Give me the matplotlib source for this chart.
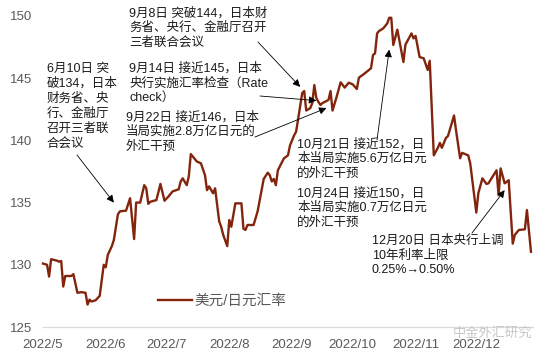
import matplotlib
matplotlib.use("Agg")
import matplotlib.pyplot as plt
import matplotlib.dates as mdates
from matplotlib.ticker import FuncFormatter
import pandas as pd

# 美元/日元汇率
dates = [
    "2022-05-01", "2022-05-03", "2022-05-04", "2022-05-05", "2022-05-08", "2022-05-09",
    "2022-05-10", "2022-05-11", "2022-05-12", "2022-05-15", "2022-05-16", "2022-05-18",
    "2022-05-20", "2022-05-22", "2022-05-23", "2022-05-24", "2022-05-25", "2022-05-27",
    "2022-05-29", "2022-05-31",
    "2022-06-01", "2022-06-02", "2022-06-04", "2022-06-05", "2022-06-07", "2022-06-08",
    "2022-06-11", "2022-06-13", "2022-06-15", "2022-06-16", "2022-06-18", "2022-06-20",
    "2022-06-21", "2022-06-22", "2022-06-23", "2022-06-26", "2022-06-28", "2022-06-30",
    "2022-07-02", "2022-07-04", "2022-07-07", "2022-07-08", "2022-07-09", "2022-07-11",
    "2022-07-12", "2022-07-13", "2022-07-15", "2022-07-16", "2022-07-18", "2022-07-20",
    "2022-07-21", "2022-07-22", "2022-07-24", "2022-07-25", "2022-07-27", "2022-07-28",
    "2022-07-29", "2022-07-31",
    "2022-08-01", "2022-08-02", "2022-08-04", "2022-08-07", "2022-08-08", "2022-08-09",
    "2022-08-10", "2022-08-13", "2022-08-15", "2022-08-18", "2022-08-20", "2022-08-21",
    "2022-08-22", "2022-08-23", "2022-08-24", "2022-08-25", "2022-08-28", "2022-08-30",
    "2022-08-31",
    "2022-09-02", "2022-09-03", "2022-09-04", "2022-09-06", "2022-09-07", "2022-09-08",
    "2022-09-10", "2022-09-11", "2022-09-12", "2022-09-13", "2022-09-14", "2022-09-15",
    "2022-09-16", "2022-09-19", "2022-09-20", "2022-09-21", "2022-09-23", "2022-09-25",
    "2022-09-27", "2022-09-29",
    "2022-10-01", "2022-10-03", "2022-10-04", "2022-10-07", "2022-10-10", "2022-10-11",
    "2022-10-12", "2022-10-13", "2022-10-14", "2022-10-16", "2022-10-18", "2022-10-19",
    "2022-10-20", "2022-10-21", "2022-10-23", "2022-10-26", "2022-10-27", "2022-10-30",
    "2022-10-31",
    "2022-11-01", "2022-11-03", "2022-11-05", "2022-11-07", "2022-11-08", "2022-11-10",
    "2022-11-12", "2022-11-13", "2022-11-14", "2022-11-16", "2022-11-17", "2022-11-20",
    "2022-11-21", "2022-11-23", "2022-11-24", "2022-11-27", "2022-11-28",
    "2022-12-01", "2022-12-02", "2022-12-04", "2022-12-06", "2022-12-07", "2022-12-11",
    "2022-12-12", "2022-12-13", "2022-12-15", "2022-12-17", "2022-12-19", "2022-12-20",
    "2022-12-22", "2022-12-25", "2022-12-26", "2022-12-28",
]
usdjpy = [
    130.1, 130.0, 129.05, 130.45, 130.33, 130.25,
    130.3, 128.25, 129.1, 129.1, 129.25, 127.75,
    127.8, 127.75, 126.8, 127.2, 127.05, 127.15,
    127.5, 130.0,
    129.8, 130.8, 131.5, 132.0, 134.06, 134.3,
    134.35, 135.35, 132.07, 135.0, 135.0, 136.4,
    136.15, 134.9, 135.07, 135.2, 136.5, 135.15,
    135.5, 135.9, 136.07, 136.7, 136.95, 136.4,
    137.1, 138.9, 138.5, 138.3, 138.16, 137.2,
    136.0, 136.3, 135.75, 136.15, 133.5, 133.06,
    132.4, 131.5,
    133.6, 133.06, 134.94, 134.94, 132.9, 132.8,
    133.2, 133.2, 134.3, 136.9, 137.4, 137.2,
    136.7, 136.9, 136.4, 137.6, 138.56, 138.8,
    139.6,
    140.4, 140.7, 141.7, 143.8, 143.97, 142.4,
    142.6, 143.0, 144.45, 143.4, 143.1, 142.85,
    143.0, 143.25, 143.97, 142.4, 143.5, 144.67,
    144.24, 144.64,
    144.5, 144.13, 145.04, 145.4, 145.8, 146.87,
    147.0, 148.6, 148.8, 149.0, 149.4, 149.86,
    149.86, 147.67, 148.9, 146.3, 147.7, 148.6,
    148.2,
    148.4, 146.7, 146.6, 145.66, 146.4, 138.8,
    139.4, 139.8, 139.4, 140.2, 140.35, 142.0,
    140.8, 138.56, 139.0, 138.8, 138.16,
    134.2, 135.75, 136.95, 136.5, 136.55, 137.6,
    135.6, 137.75, 136.55, 136.8, 131.7, 132.4,
    132.8, 132.85, 134.4, 131.05,
]
series_name = "美元/日元汇率"

# annotation texts and the (date, value) they point at
notes = [
    ("6月10日 突\n破134，日本\n财务省、央\n行、金融厅\n召开三者联\n合会议", "2022-06-05", 135.0),
    ("9月8日 突破144，日本财\n务省、央行、金融厅召开\n三者联合会议", "2022-09-05", 144.3),
    ("9月14日 接近145，日本\n央行实施汇率检查（Rate\ncheck）", "2022-09-13", 143.2),
    ("9月22日 接近146，日本\n当局实施2.8万亿日元的\n外汇干预", "2022-09-18", 142.6),
    ("10月21日 接近152，日\n本当局实施5.6万亿日元\n的外汇干预", "2022-10-19", 147.3),
    ("10月24日 接近150，日\n本当局实施0.7万亿日元\n的外汇干预", None, None),
    ("12月20日 日本央行上调\n10年利率上限\n0.25%→0.50%", "2022-12-15", 136.0),
]
# text top-left and arrow tail, in figure pixels from top-left
text_pos = [(47, 63), (129, 7), (129, 62), (126, 111), (297, 138), (297, 187), (372, 235)]
tail_pos = [(77, 155), (258, 42), (260, 96), (255, 137), (377, 140), None, (472, 233)]

W, H = 550, 359
plt.rcParams["font.family"] = ["Liberation Sans", "Noto Sans CJK SC", "DejaVu Sans"]

fig = plt.figure(figsize=(W / 100, H / 100), dpi=100)
ax = fig.add_axes([43 / W, 1 - 327 / H, (533 - 43) / W, (327 - 16) / H])

x = pd.to_datetime(dates)
ax.plot(x, usdjpy, color="#82250C", lw=1.7, label=series_name, clip_on=False)

ax.set_ylim(125, 150)
ax.set_yticks([125, 130, 135, 140, 145, 150])
ax.set_xlim(pd.Timestamp("2022-05-01"), pd.Timestamp("2022-12-29"))
ax.xaxis.set_major_locator(mdates.MonthLocator())
ax.xaxis.set_major_formatter(FuncFormatter(
    lambda v, p: "{}/{}".format(mdates.num2date(v).year, mdates.num2date(v).month)))

for s in ["top", "right", "left"]:
    ax.spines[s].set_visible(False)
ax.spines["bottom"].set_color("#D9D9D9")
ax.spines["bottom"].set_linewidth(0.9)
ax.tick_params(length=0, colors="#595959", labelsize=9.5)
ax.tick_params(axis="y", pad=8)
ax.tick_params(axis="x", pad=9)

for (txt, d, v), (tx, ty), tail in zip(notes, text_pos, tail_pos):
    fig.text(tx / W, 1 - ty / H, txt, fontsize=9, va="top", ha="left",
             color="#1a1a1a", linespacing=1.3)
    if tail is not None:
        ax.annotate("", xy=(pd.Timestamp(d), v), xycoords="data",
                    xytext=(tail[0] / W, 1 - tail[1] / H), textcoords="figure fraction",
                    arrowprops=dict(arrowstyle="-|>", color="black", lw=0.6,
                                    mutation_scale=11, shrinkA=0, shrinkB=0))

ax.legend(loc="center left", bbox_to_anchor=(158 / W, 1 - 301 / H),
          bbox_transform=fig.transFigure, frameon=False, fontsize=10.5,
          handlelength=2.3, handletextpad=0.2, borderpad=0, borderaxespad=0,
          labelcolor="#595959")

# watermark
fig.text(453 / W, 1 - 333 / H, "中金外汇研究", fontsize=9.5, color="#C8C8C8",
         va="center", ha="left")

fig.savefig("out.png", dpi=100)
